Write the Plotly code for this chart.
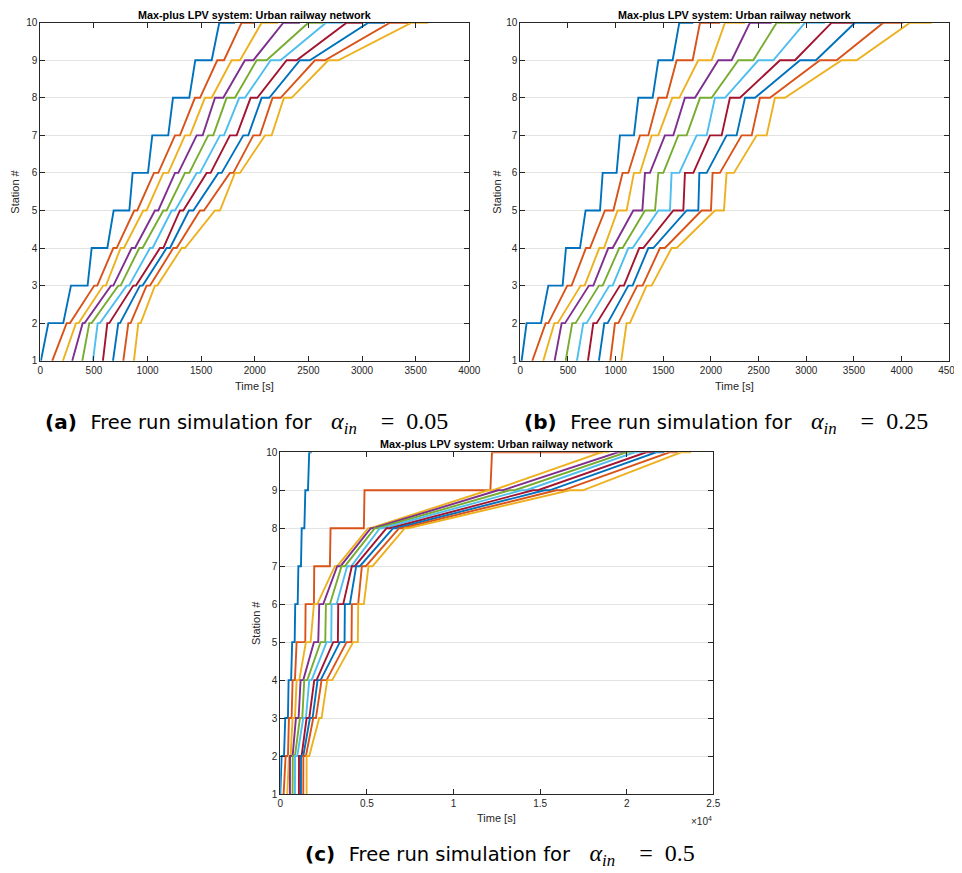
import plotly.graph_objects as go

# ---------------- data (times in seconds) ----------------
STATIONS = [1, 2, 3, 4, 5, 6, 7, 8, 9, 10]
COLORS = ['#0072BD', '#D95319', '#EDB120', '#7E2F8E', '#77AC30',
          '#4DBEEE', '#A2142F', '#0072BD', '#D95319', '#EDB120']

# (a) alpha_in = 0.05 : arrival / departure time per train (rows) and station (cols)
A_ARR = [
    [0, 75, 286, 479, 684, 861, 1044, 1237, 1445, 1669],
    [106, 246, 503, 681, 876, 1060, 1256, 1442, 1650, 1877],
    [205, 333, 587, 749, 960, 1147, 1349, 1535, 1784, 2064],
    [292, 395, 659, 852, 1069, 1256, 1458, 1629, 1908, 2266],
    [385, 457, 727, 923, 1147, 1349, 1566, 1737, 2017, 2499],
    [485, 535, 805, 1023, 1225, 1458, 1675, 1855, 2148, 2664],
    [578, 625, 867, 1116, 1302, 1551, 1768, 1961, 2297, 2856],
    [671, 727, 929, 1178, 1386, 1660, 1893, 2064, 2421, 3058],
    [768, 821, 991, 1240, 1489, 1768, 1986, 2166, 2561, 3260],
    [867, 914, 1069, 1318, 1629, 1815, 2095, 2272, 2685, 3462],
]
A_DEP = [
    [6, 214, 441, 625, 830, 1004, 1193, 1389, 1598, 1815],
    [112, 277, 531, 712, 904, 1100, 1302, 1489, 1713, 2002],
    [211, 357, 612, 780, 991, 1193, 1396, 1598, 1862, 2219],
    [298, 413, 681, 883, 1100, 1287, 1514, 1706, 1986, 2421],
    [392, 479, 749, 954, 1178, 1389, 1613, 1815, 2110, 2639],
    [491, 556, 827, 1047, 1256, 1489, 1713, 1908, 2241, 2825],
    [584, 643, 892, 1147, 1333, 1588, 1831, 2023, 2390, 3012],
    [678, 743, 954, 1209, 1427, 1691, 1939, 2135, 2514, 3214],
    [774, 842, 1023, 1271, 1526, 1800, 2048, 2241, 2654, 3431],
    [873, 936, 1091, 1349, 1675, 1862, 2157, 2343, 2779, 3618],
]

# (b) alpha_in = 0.25
B_ARR = [
    [0, 66, 294, 479, 685, 864, 1045, 1238, 1448, 1668],
    [119, 266, 493, 689, 888, 1073, 1255, 1448, 1640, 1885],
    [234, 357, 633, 829, 1021, 1192, 1378, 1594, 1867, 2147],
    [353, 434, 720, 923, 1185, 1308, 1517, 1727, 2077, 2409],
    [469, 545, 825, 1038, 1308, 1448, 1657, 1885, 2287, 2689],
    [587, 661, 934, 1133, 1448, 1587, 1850, 2042, 2496, 2986],
    [703, 766, 1045, 1248, 1605, 1727, 1990, 2199, 2724, 3266],
    [818, 881, 1133, 1343, 1745, 1878, 2164, 2357, 2934, 3510],
    [937, 993, 1227, 1465, 1902, 2017, 2322, 2514, 3143, 3808],
    [1052, 1115, 1325, 1587, 2042, 2164, 2479, 2671, 3371, 4088],
]
B_DEP = [
    [14, 217, 444, 626, 836, 1010, 1192, 1388, 1598, 1815],
    [126, 294, 538, 731, 976, 1133, 1343, 1535, 1808, 2094],
    [241, 392, 675, 878, 1115, 1255, 1448, 1668, 2007, 2357],
    [360, 469, 766, 969, 1280, 1360, 1605, 1832, 2217, 2636],
    [476, 580, 864, 1073, 1413, 1500, 1745, 2007, 2444, 2934],
    [594, 696, 969, 1178, 1570, 1668, 1955, 2147, 2654, 3196],
    [710, 801, 1087, 1290, 1710, 1815, 2112, 2304, 2881, 3493],
    [825, 916, 1178, 1395, 1867, 1955, 2269, 2462, 3101, 3790],
    [944, 1028, 1283, 1517, 2000, 2094, 2427, 2619, 3318, 4017],
    [1059, 1150, 1378, 1640, 2136, 2241, 2584, 2776, 3528, 4315],
]

# (c) alpha_in = 0.5
C_ARR = [
    [0, 75, 286, 479, 684, 861, 1044, 1237, 1445, 1669],
    [135, 308, 500, 711, 942, 1461, 1960, 2902, 4863, 12224],
    [365, 500, 711, 942, 1480, 1941, 3152, 5074, 11993, 18528],
    [519, 560, 903, 1172, 1941, 2249, 3287, 5228, 12570, 19489],
    [673, 720, 1134, 1384, 2326, 2633, 3536, 5458, 13243, 19970],
    [807, 850, 1326, 1672, 2672, 2960, 3863, 5747, 13915, 20450],
    [1038, 1080, 1518, 1960, 3056, 3344, 4132, 6131, 14588, 21123],
    [1153, 1195, 1711, 2153, 3440, 3729, 4382, 6516, 15261, 21699],
    [1288, 1330, 1903, 2383, 3825, 4132, 4709, 6862, 15933, 22468],
    [1480, 1520, 2249, 2710, 4209, 4497, 5093, 7188, 16702, 23141],
]
C_DEP = [
    [6, 214, 441, 625, 830, 1004, 1193, 1389, 1598, 1815],
    [192, 442, 653, 846, 1442, 1941, 2864, 4824, 12128, 18624],
    [404, 596, 846, 1096, 1749, 2133, 3287, 5209, 12282, 19009],
    [557, 711, 1057, 1326, 2191, 2479, 3479, 5362, 12858, 19970],
    [711, 846, 1269, 1557, 2595, 2864, 3729, 5593, 13531, 20450],
    [846, 980, 1480, 1807, 2941, 3248, 4094, 5901, 14204, 20931],
    [1076, 1230, 1672, 2095, 3325, 3633, 4305, 6323, 14876, 21603],
    [1192, 1326, 1864, 2326, 3709, 4017, 4594, 6669, 15549, 22180],
    [1326, 1480, 2057, 2672, 4113, 4497, 4940, 7035, 16318, 22949],
    [1518, 1672, 2383, 2998, 4478, 4824, 5324, 7380, 17471, 23717],
]

TITLE = 'Max-plus LPV system: Urban railway network'
XLABEL = 'Time [s]'
YLABEL = 'Station #'
XTICKS_A = [0, 500, 1000, 1500, 2000, 2500, 3000, 3500, 4000]
XTICKS_B = [0, 500, 1000, 1500, 2000, 2500, 3000, 3500, 4000, 4500]
XTICKS_C = [0, 5000, 10000, 15000, 20000, 25000]
XTICKTEXT_C = ['0', '0.5', '1', '1.5', '2', '2.5']
LABELS = ['(a)', '(b)', '(c)']
CAPTION = 'Free run simulation for'
ALPHAS = ['0.05', '0.25', '0.5']

# ---------------- figure ----------------
# the page body has an 8px margin, so the figure is drawn 8px in from the corner
OFF = 8
W, H = 962, 865


def fx(p):
    return (p - OFF) / W


def fy(p):
    return 1 - (p - OFF) / H


fig = go.Figure()
panels = [(A_ARR, A_DEP, 'x', 'y'), (B_ARR, B_DEP, 'x2', 'y2'), (C_ARR, C_DEP, 'x3', 'y3')]
for arr, dep, xa, ya in panels:
    for k in range(len(arr)):
        xs, ys = [], []
        for s in range(len(STATIONS)):
            xs += [arr[k][s], dep[k][s]]
            ys += [STATIONS[s], STATIONS[s]]
        fig.add_trace(go.Scatter(x=xs, y=ys, mode='lines',
                                 line=dict(color=COLORS[k], width=1.9),
                                 xaxis=xa, yaxis=ya, showlegend=False,
                                 hoverinfo='skip'))

AX = '#262626'
TICKFONT = dict(family='Liberation Sans, Arial, sans-serif', size=10, color=AX)
common = dict(showline=True, linecolor=AX, linewidth=1, mirror='allticks',
              ticks='inside', ticklen=5, tickcolor=AX, tickwidth=1,
              zeroline=False, tickfont=TICKFONT, automargin=False,
              ticklabeloverflow='allow')

fig.update_layout(
    width=W, height=H, margin=dict(l=0, r=0, t=0, b=0, autoexpand=False),
    paper_bgcolor='white', plot_bgcolor='white',
    xaxis=dict(domain=[fx(40.3), fx(469.3)], range=[0, 4000], tickvals=XTICKS_A,
               showgrid=False, anchor='y', **common),
    yaxis=dict(domain=[fy(360.7), fy(22.7)], range=[1, 10], dtick=1,
               showgrid=True, gridcolor='#e3e3e3', anchor='x', **common),
    xaxis2=dict(domain=[fx(520.3), fx(949.3)], range=[0, 4500], tickvals=XTICKS_B,
                showgrid=False, anchor='y2', **common),
    yaxis2=dict(domain=[fy(360.7), fy(22.7)], range=[1, 10], dtick=1,
                showgrid=True, gridcolor='#e3e3e3', anchor='x2', **common),
    xaxis3=dict(domain=[fx(280.3), fx(713.3)], range=[0, 25000], tickvals=XTICKS_C,
                ticktext=XTICKTEXT_C, showgrid=False, anchor='y3', **common),
    yaxis3=dict(domain=[fy(794), fy(452.3)], range=[1, 10], dtick=1,
                showgrid=True, gridcolor='#e3e3e3', anchor='x3', **common),
)

LBL = dict(family='Liberation Sans, Arial, sans-serif', size=11, color=AX)
TTL = dict(family='Liberation Sans, Arial, sans-serif', size=10.8, color='#000000')
ann = []
# titles
for cx, ty in [(254.8, 14.5), (734.8, 14.5), (496.8, 444.0)]:
    ann.append(dict(x=fx(cx), y=fy(ty), xref='paper', yref='paper', text='<b>' + TITLE + '</b>',
                    showarrow=False, font=TTL, xanchor='center', yanchor='middle'))
# x labels
for cx, ty in [(254.8, 386), (734.8, 386), (496.8, 818)]:
    ann.append(dict(x=fx(cx), y=fy(ty), xref='paper', yref='paper', text=XLABEL,
                    showarrow=False, font=LBL, xanchor='center', yanchor='middle'))
# y labels
for cx, ty in [(15, 191.7), (497, 191.7), (256, 623)]:
    ann.append(dict(x=fx(cx), y=fy(ty), xref='paper', yref='paper', text=YLABEL,
                    showarrow=False, font=LBL, xanchor='center', yanchor='middle', textangle=-90))
# x10^4 exponent
ann.append(dict(x=fx(714), y=fy(821), xref='paper', yref='paper', text='×10<sup>4</sup>',
                showarrow=False, font=dict(family='Liberation Sans, Arial, sans-serif', size=10, color=AX),
                xanchor='right', yanchor='middle'))
# captions
CAPFONT = dict(family='DejaVu Sans, sans-serif', size=19.5, color='#000000')
for i, (cx, ty) in enumerate([(246, 423), (726, 423), (500, 855)]):
    txt = ('<span style="font-size:20px"><b>' + LABELS[i] + '</b></span>\u2002\u2009' + CAPTION +
           '\u2003<span style="font-family:Liberation Serif;font-size:24px"><i>α</i>'
           '<sub><i>in</i></sub>\u2003=\u2002' + ALPHAS[i] + '</span>')
    ann.append(dict(x=fx(cx), y=fy(ty), xref='paper', yref='paper', text=txt,
                    showarrow=False, font=CAPFONT, xanchor='center', yanchor='middle'))
fig.update_layout(annotations=ann)

fig.write_html('out.html',
               post_script="document.documentElement.style.overflow='hidden';"
                           "document.body.style.overflow='hidden';")
